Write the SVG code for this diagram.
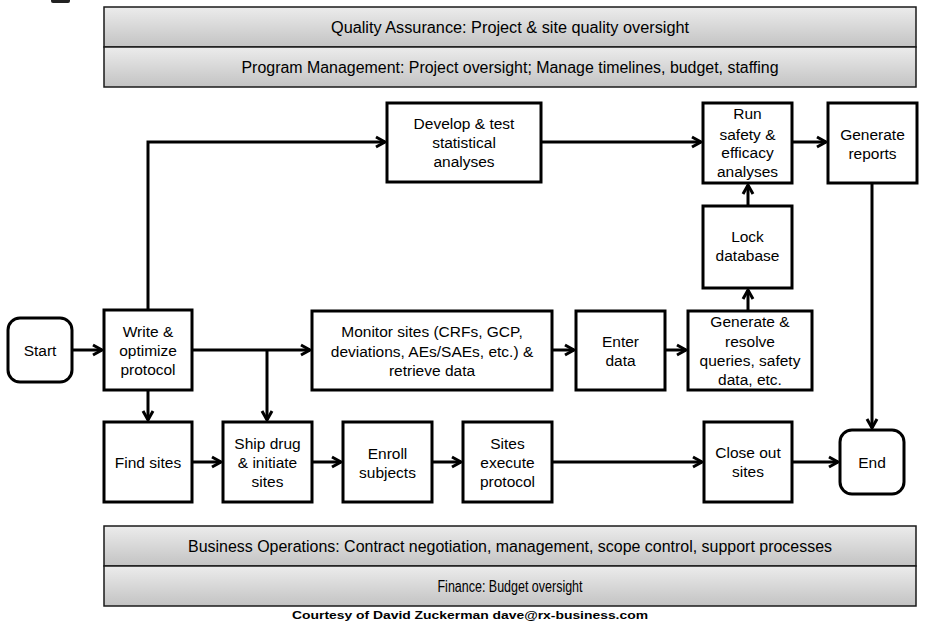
<svg xmlns="http://www.w3.org/2000/svg" width="935" height="624" viewBox="0 0 935 624">
<style>
.box{fill:#fff;stroke:#000;stroke-width:3}
.t{font-family:"Liberation Sans",Arial,sans-serif;font-size:15.5px;fill:#000;text-anchor:middle}
.bt{font-family:"Liberation Sans",Arial,sans-serif;font-size:16px;fill:#000;text-anchor:middle}
.band{fill:url(#g);stroke:#1a1a1a;stroke-width:1.5}
.c{fill:none;stroke:#000;stroke-width:3;marker-end:url(#a)}
</style>
<defs>
<linearGradient id="g" x1="0" y1="0" x2="0" y2="1">
<stop offset="0" stop-color="#ececec"/>
<stop offset="1" stop-color="#c3c3c3"/>
</linearGradient>
<marker id="a" markerUnits="userSpaceOnUse" markerWidth="20" markerHeight="20" refX="0" refY="0" orient="auto" overflow="visible">
<path d="M-9,-5 L0,0 L-9,5" fill="none" stroke="#000" stroke-width="3"/>
</marker>
</defs>
<rect width="935" height="624" fill="#fff"/>
<rect x="51" y="-6" width="19" height="9" rx="2" fill="#222"/>

<g id="band-qa"><rect class="band" x="104" y="7" width="812" height="40"/><text class="bt" x="510" y="32.5" textLength="358" lengthAdjust="spacingAndGlyphs">Quality Assurance: Project &amp; site quality oversight</text></g>
<g id="band-pm"><rect class="band" x="104" y="47" width="812" height="40"/><text class="bt" x="510" y="72.5" textLength="537" lengthAdjust="spacingAndGlyphs">Program Management: Project oversight; Manage timelines, budget, staffing</text></g>
<g id="band-bo"><rect class="band" x="104" y="526" width="812" height="40"/><text class="bt" x="510" y="551.5" textLength="644" lengthAdjust="spacingAndGlyphs">Business Operations: Contract negotiation, management, scope control, support processes</text></g>
<g id="band-fin"><rect class="band" x="104" y="566" width="812" height="40"/><text class="bt" x="510" y="591.5" textLength="145" lengthAdjust="spacingAndGlyphs">Finance: Budget oversight</text></g>

<g id="connectors">
<path class="c" d="M72,350 H102"/>
<path class="c" d="M192,350 H310"/>
<path class="c" d="M267,350 V420"/>
<path class="c" d="M148,390 V420"/>
<path class="c" d="M148,310 V142 H385"/>
<path class="c" d="M541,142 H701"/>
<path class="c" d="M792,142 H826"/>
<path class="c" d="M552,350 H574"/>
<path class="c" d="M665,350 H686"/>
<path class="c" d="M748,311 V290"/>
<path class="c" d="M748,206 V185"/>
<path class="c" d="M872,183 V428"/>
<path class="c" d="M192,462 H221"/>
<path class="c" d="M312,462 H341"/>
<path class="c" d="M432,462 H461"/>
<path class="c" d="M552,462 H702"/>
<path class="c" d="M792,462 H838"/>
</g>

<g id="start"><rect class="box" x="8" y="318" width="64" height="64" rx="12"/><text class="t" x="40" y="356">Start</text></g>
<g id="write"><rect class="box" x="104" y="310" width="88" height="80"/><text class="t" x="148"><tspan x="148" y="337">Write &amp;</tspan><tspan x="148" y="356">optimize</tspan><tspan x="148" y="375">protocol</tspan></text></g>
<g id="develop"><rect class="box" x="387" y="103" width="154" height="79"/><text class="t"><tspan x="464" y="129">Develop &amp; test</tspan><tspan x="464" y="148">statistical</tspan><tspan x="464" y="167">analyses</tspan></text></g>
<g id="run"><rect class="box" x="703" y="103" width="89" height="80"/><text class="t"><tspan x="747.5" y="119">Run</tspan><tspan x="747.5" y="140">safety &amp;</tspan><tspan x="747.5" y="158">efficacy</tspan><tspan x="747.5" y="177">analyses</tspan></text></g>
<g id="reports"><rect class="box" x="828" y="103" width="89" height="80"/><text class="t"><tspan x="872.5" y="140">Generate</tspan><tspan x="872.5" y="159">reports</tspan></text></g>
<g id="lock"><rect class="box" x="703" y="206" width="89" height="82"/><text class="t"><tspan x="747.5" y="242">Lock</tspan><tspan x="747.5" y="261">database</tspan></text></g>
<g id="monitor"><rect class="box" x="312" y="311" width="240" height="79"/><text class="t"><tspan x="432" y="337">Monitor sites (CRFs, GCP,</tspan><tspan x="432" y="357">deviations, AEs/SAEs, etc.) &amp;</tspan><tspan x="432" y="376">retrieve data</tspan></text></g>
<g id="enter"><rect class="box" x="576" y="311" width="89" height="79"/><text class="t"><tspan x="620.5" y="347">Enter</tspan><tspan x="620.5" y="366">data</tspan></text></g>
<g id="resolve"><rect class="box" x="688" y="311" width="124" height="79"/><text class="t"><tspan x="750" y="327">Generate &amp;</tspan><tspan x="750" y="347">resolve</tspan><tspan x="750" y="366">queries, safety</tspan><tspan x="750" y="385">data, etc.</tspan></text></g>
<g id="find"><rect class="box" x="104" y="422" width="88" height="80"/><text class="t" x="148" y="468">Find sites</text></g>
<g id="ship"><rect class="box" x="223" y="422" width="89" height="80"/><text class="t"><tspan x="267.5" y="449">Ship drug</tspan><tspan x="267.5" y="468">&amp; initiate</tspan><tspan x="267.5" y="487">sites</tspan></text></g>
<g id="enroll"><rect class="box" x="343" y="422" width="89" height="80"/><text class="t"><tspan x="387.5" y="459">Enroll</tspan><tspan x="387.5" y="478">subjects</tspan></text></g>
<g id="execute"><rect class="box" x="463" y="422" width="89" height="80"/><text class="t"><tspan x="507.5" y="449">Sites</tspan><tspan x="507.5" y="468">execute</tspan><tspan x="507.5" y="487">protocol</tspan></text></g>
<g id="close"><rect class="box" x="704" y="422" width="88" height="80"/><text class="t"><tspan x="748" y="458">Close out</tspan><tspan x="748" y="477">sites</tspan></text></g>
<g id="end"><rect class="box" x="840" y="430" width="64" height="64" rx="12"/><text class="t" x="872" y="468">End</text></g>

<text x="470" y="619" font-family="'Liberation Sans',Arial,sans-serif" font-size="10.5" font-weight="bold" text-anchor="middle" textLength="356" lengthAdjust="spacingAndGlyphs">Courtesy of David Zuckerman  dave@rx-business.com</text>
</svg>
